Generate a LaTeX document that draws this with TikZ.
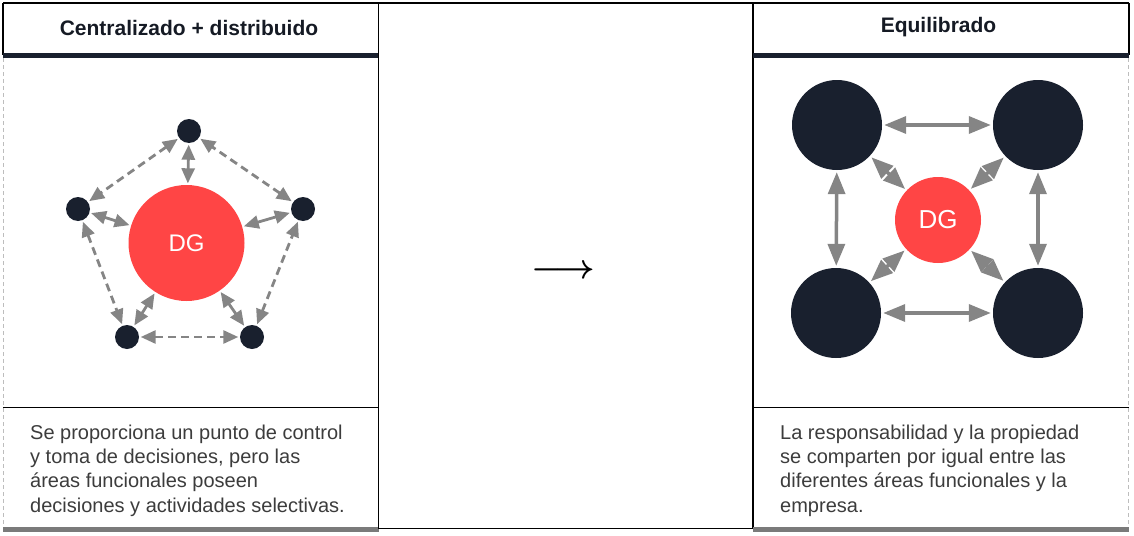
\documentclass[tikz,border=0pt]{standalone}
\usepackage{graphicx}
\usepackage{fontspec}
\setmainfont{Liberation Sans}
\usetikzlibrary{arrows.meta}
\definecolor{navy}{HTML}{19202E}
\definecolor{dgred}{HTML}{FF4545}
\definecolor{arrgray}{HTML}{858585}
\definecolor{bargray}{HTML}{7A7A7A}
\definecolor{edgegray}{HTML}{BDBDBD}
\definecolor{bodytext}{HTML}{3C3C3C}
\definecolor{headtext}{HTML}{151A24}
\tikzset{
  frame/.style={line width=1.3pt, draw=black},
  headbar/.style={line width=5pt, draw=navy},
  footbar/.style={line width=4.5pt, draw=bargray},
  sideedge/.style={line width=1pt, draw=edgegray, dash pattern=on 4pt off 3pt},
  heading/.style={font=\fontsize{21}{25}\selectfont\bfseries, text=headtext, inner sep=0pt},
  bodyline/.style={font=\fontsize{20}{24}\selectfont, text=bodytext, inner sep=0pt, anchor=base west},
  dg/.style={circle, fill=dgred, draw=none, text=white, inner sep=0pt},
  smalldot/.style={circle, fill=navy, draw=none, minimum size=24pt, inner sep=0pt},
  bigdot/.style={circle, fill=navy, draw=none, minimum size=90pt, inner sep=0pt},
  larr/.style={draw=arrgray, line width=2.8pt, {Triangle[length=15pt,width=13pt]}-{Triangle[length=15pt,width=13pt]}, shorten <=1.5pt, shorten >=1.5pt},
  ldash/.style={larr, dash pattern=on 8pt off 5pt},
  rarr/.style={draw=arrgray, line width=3.5pt, {Triangle[length=22pt,width=17pt]}-{Triangle[length=22pt,width=17pt]}, shorten <=2pt, shorten >=2pt},
}
\begin{document}
\begin{tikzpicture}[x=1pt,y=-1pt]
\useasboundingbox (0,0) rectangle (1134,535);
% ---- left panel frame
\draw[frame] (3,3) -- (378.5,3);
\draw[frame] (3,3) -- (3,55);
\draw[sideedge] (3,58) -- (3,527);
\draw[headbar] (3,55.8) -- (378.5,55.8);
\draw[frame] (3,407.5) -- (378.5,407.5);
\draw[footbar] (3,529.5) -- (378.5,529.5);
% ---- middle panel
\draw[frame] (378.5,3) rectangle (753,528.5);
% ---- right panel frame
\draw[frame] (753,3) -- (1129,3);
\draw[frame] (1129,3) -- (1129,55);
\draw[sideedge] (1128.5,58) -- (1128.5,527);
\draw[headbar] (753,55.8) -- (1129,55.8);
\draw[frame] (753,407.5) -- (1128.5,407.5);
\draw[footbar] (753,529.5) -- (1128.5,529.5);
% ---- headings
\node[heading] (h1) at (189,27.5) {Centralizado + distribuido};
\node[heading] (h2) at (938.5,27.5) {Equilibrado};
% ---- middle arrow
\node[inner sep=0pt, font=\boldmath] (mid) at (563.5,271.5) {\scalebox{3.45}{$\longrightarrow$}};
% ---- left diagram
\node[dg, minimum size=116pt, font=\fontsize{24}{24}\selectfont] (c1) at (186.5,243) {DG};
\node[smalldot] (pt) at (189,131) {};
\node[smalldot] (pl) at (78,209) {};
\node[smalldot] (pr) at (303,209) {};
\node[smalldot] (pbl) at (127,337) {};
\node[smalldot] (pbr) at (252,337) {};
\draw[ldash] (pt) -- (pl);
\draw[ldash] (pl) -- (pbl);
\draw[ldash] (pbl) -- (pbr);
\draw[ldash] (pbr) -- (pr);
\draw[ldash] (pr) -- (pt);
\draw[larr] (c1) -- (pt);
\draw[larr] (c1) -- (pl);
\draw[larr] (c1) -- (pr);
\draw[larr] (c1) -- (pbl);
\draw[larr] (c1) -- (pbr);
% ---- right diagram
\node[dg, minimum size=86pt, font=\fontsize{26}{26}\selectfont] (c2) at (938,220) {DG};
\node[bigdot] (qtl) at (837,125) {};
\node[bigdot] (qtr) at (1038,125) {};
\node[bigdot] (qbl) at (836,313) {};
\node[bigdot] (qbr) at (1038,313) {};
\draw[rarr] (qtl) -- (qtr);
\draw[rarr] (qbl) -- (qbr);
\draw[rarr] (qtl) -- (qbl);
\draw[rarr] (qtr) -- (qbr);
\draw[rarr] (c2) -- (qtl);
\draw[rarr] (c2) -- (qtr);
\draw[rarr] (c2) -- (qbl);
\draw[rarr] (c2) -- (qbr);
% ---- body texts
\node[bodyline] (l1) at (30,439) {Se proporciona un punto de control};
\node[bodyline] (l2) at (30,463) {y toma de decisiones, pero las};
\node[bodyline] (l3) at (30,487) {áreas funcionales poseen};
\node[bodyline] (l4) at (30,512) {decisiones y actividades selectivas.};
\node[bodyline] (r1) at (780,439) {La responsabilidad y la propiedad};
\node[bodyline] (r2) at (780,463) {se comparten por igual entre las};
\node[bodyline] (r3) at (780,487) {diferentes áreas funcionales y la};
\node[bodyline] (r4) at (780,512) {empresa.};
\end{tikzpicture}
\end{document}
